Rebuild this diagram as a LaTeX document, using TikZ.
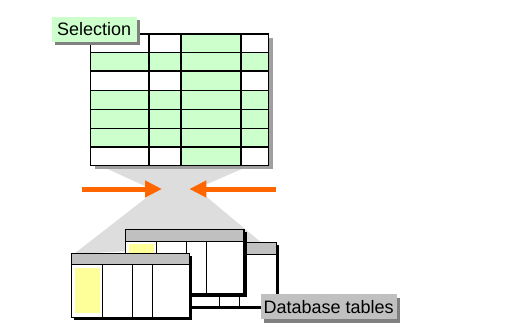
\documentclass[tikz,border=0pt]{standalone}
\usepackage{fontspec}
\setmainfont{Liberation Sans}
\usetikzlibrary{arrows.meta,shadows}
\definecolor{selgreen}{HTML}{CCFFCC}
\definecolor{hdrgray}{HTML}{C0C0C0}
\definecolor{cellyellow}{HTML}{FFFF99}
\definecolor{funnelgray}{HTML}{DDDDDD}
\definecolor{arroworange}{HTML}{FF6600}
\definecolor{shadowgray}{HTML}{808080}
\definecolor{tshadow}{HTML}{A0A0A0}
\begin{document}
\begin{tikzpicture}[x=1pt,y=-1pt,
  thinrule/.style={line width=1pt,black},
  thickrule/.style={line width=1.8pt,black},
  tborder/.style={line width=1.5pt,black},
  tagbox/.style={inner sep=0pt,font=\fontsize{18}{21}\selectfont,
    drop shadow={shadow xshift=3.5pt,shadow yshift=-3.5pt,fill=shadowgray,opacity=1}},
  orangearrow/.style={draw=arroworange,line width=5pt,
    -{Triangle[length=17pt,width=16pt]}}]
\useasboundingbox (0,0) rectangle (520,330);
% funnel
\fill[funnelgray] (99,165) -- (251,165) -- (173,199) -- cycle;
\fill[funnelgray] (178,173) -- (74,254) -- (263,244) -- cycle;
% selection table
\fill[tshadow] (94.7,38) rectangle (272.7,169.3);
\fill[white] (90.7,34) rectangle (268.7,165.3);
\fill[selgreen] (90.7,52.3) rectangle (268.7,71);
\fill[selgreen] (90.7,90.3) rectangle (268.7,146.7);
\fill[selgreen] (180.7,34) rectangle (240.7,165.3);
\foreach \y in {52.3,90.3,109.3,128} \draw[thinrule] (90.7,\y) -- (268.7,\y);
\foreach \y in {71,146.7} \draw[thickrule] (90.7,\y) -- (268.7,\y);
\foreach \x in {149.3,180.7,240.7} \draw[thickrule] (\x,34) -- (\x,165.3);
\draw[tborder] (90.7,34) rectangle (268.7,165.3);
\node[tagbox,fill=selgreen,minimum width=85pt,minimum height=25pt] (sel) at (94.2,29.2) {Selection};
% arrows
\coordinate (la) at (82,189);
\coordinate (lt) at (162,189);
\coordinate (ra) at (276,189);
\coordinate (rt) at (189.3,189);
\draw[orangearrow] (la) -- (lt);
\draw[orangearrow] (ra) -- (rt);
% back table
\fill[black] (160.5,245.2) rectangle (279.2,309.2);
\fill[white] (158,242.7) rectangle (276.7,306.7);
\fill[hdrgray] (158,242.7) rectangle (276.7,254);
\draw[thinrule] (158,254) -- (276.7,254);
\foreach \x in {219.3,239.3} \draw[thinrule] (\x,254) -- (\x,306.7);
\draw[tborder] (158,242.7) rectangle (276.7,306.7);
% middle table
\fill[black] (127.8,231.8) rectangle (246.5,296.5);
\fill[white] (125.3,229.3) rectangle (244,294);
\fill[hdrgray] (125.3,229.3) rectangle (244,241);
\fill[cellyellow] (129,244) rectangle (154,290);
\draw[thinrule] (125.3,241) -- (244,241);
\foreach \x in {156,186.7,206.7} \draw[thinrule] (\x,241) -- (\x,294);
\draw[tborder] (125.3,229.3) rectangle (244,294);
% front table
\fill[black] (74.2,255.8) rectangle (191.8,319.8);
\fill[white] (71.7,253.3) rectangle (189.3,317.3);
\fill[hdrgray] (71.7,253.3) rectangle (189.3,264.3);
\fill[cellyellow] (75,267.7) rectangle (100,312.7);
\draw[thinrule] (71.7,264.3) -- (189.3,264.3);
\foreach \x in {102.7,132.7,152.7} \draw[thinrule] (\x,264.3) -- (\x,317.3);
\draw[tborder] (71.7,253.3) rectangle (189.3,317.3);
% label
\node[tagbox,fill=hdrgray,minimum width=136pt,minimum height=25.3pt] (db) at (328.7,306.65) {Database tables};
\end{tikzpicture}
\end{document}
